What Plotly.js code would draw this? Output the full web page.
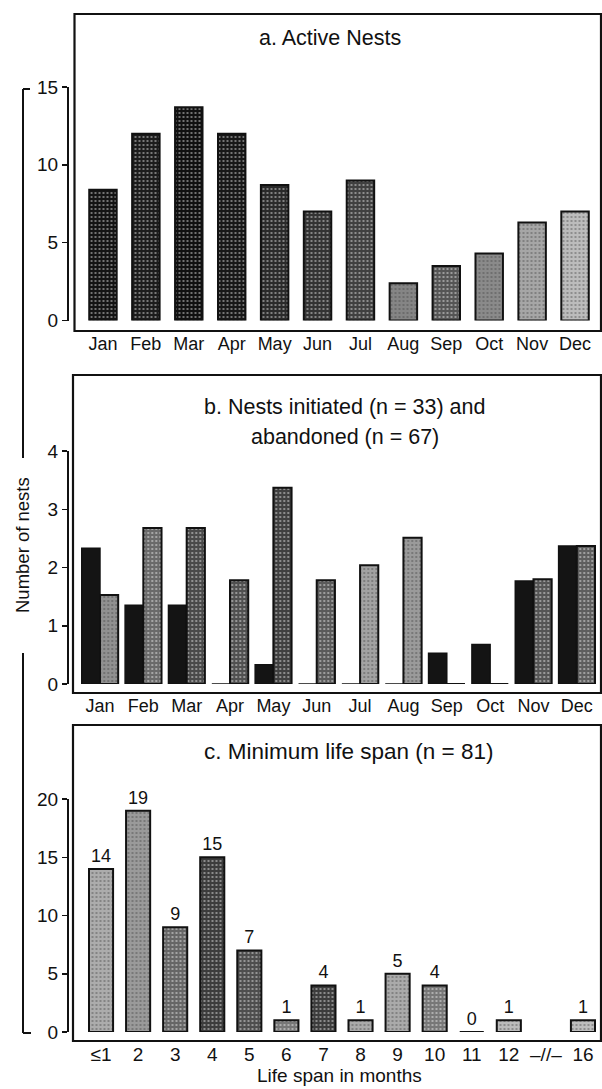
<!DOCTYPE html>
<html><head><meta charset="utf-8">
<script src="https://cdn.plot.ly/plotly-3.0.1.min.js"></script>
<style>html,body{margin:0;padding:0;background:#fff}#chart{width:602px;height:1089px}</style>
</head><body><div id="chart"></div>
<script>
// ---- data ----
const months = ['Jan','Feb','Mar','Apr','May','Jun','Jul','Aug','Sep','Oct','Nov','Dec'];
const activeNests = [8.4, 12, 13.7, 12, 8.7, 7, 9, 2.4, 3.5, 4.3, 6.3, 7];
const nestsInitiated = [2.33, 1.35, 1.35, 0, 0.33, 0, 0, 0, 0.53, 0.68, 1.77, 2.37];
const nestsAbandoned = [1.53, 2.68, 2.68, 1.78, 3.37, 1.78, 2.04, 2.51, 0, 0, 1.8, 2.37];
const lifeSpanCats = ['≤1','2','3','4','5','6','7','8','9','10','11','12','16'];
const lifeSpanCounts = [14, 19, 9, 15, 7, 1, 4, 1, 5, 4, 0, 1, 1];
const breakLabel = '–//–';

// ---- styles ----
const colA = ['#141414','#1c1c1c','#101010','#181818','#2a2a2a','#333333','#404040','#858585','#555555','#8a8a8a','#a6a6a6','#bcbcbc'];
const dotA = ['#8a8a8a','#7a7a7a','#808080','#7e7e7e','#8a8a8a','#909090','#b8b8b8','#3a3a3a','#b0b0b0','#4c4c4c','#5e5e5e','#7a7a7a'];
const colB = ['#909090','#6a6a6a','#4a4a4a','#505050','#404040','#5a5a5a','#a2a2a2','#9a9a9a','#888888','#888888','#555555','#5e5e5e'];
const dotB = ['#3a3a3a','#cfcfcf','#f0f0f0','#d0d0d0','#f2f2f2','#c0c0c0','#555555','#4a4a4a','#333333','#333333','#f0f0f0','#f4f4f4'];
const colC = ['#acacac','#9a9a9a','#666666','#3c3c3c','#4e4e4e','#777777','#3c3c3c','#aaaaaa','#aaaaaa','#777777','#999999','#bbbbbb','#bdbdbd'];
const dotC = ['#555555','#4a4a4a','#cfcfcf','#c4c4c4','#b4b4b4','#dddddd','#f0f0f0','#555555','#555555','#dddddd','#444444','#555555','#555555'];

const W = 602, H = 1089;
const px = v => v / W;
const py = v => 1 - v / H;
const FONT = 'Liberation Sans, Arial, sans-serif';
const INK = '#111111';

// life-span axis with the break slot between 12 and 16
const nBeforeBreak = lifeSpanCats.length - 1;
const cX = lifeSpanCats.slice(0, nBeforeBreak).concat([breakLabel], lifeSpanCats.slice(nBeforeBreak));
const cY = lifeSpanCounts.slice(0, nBeforeBreak).concat([null], lifeSpanCounts.slice(nBeforeBreak));
const withBreak = arr => arr.slice(0, nBeforeBreak).concat(['#ffffff'], arr.slice(nBeforeBreak));

function pat(dots) {
  return {shape: '.', fillmode: 'overlay', fgcolor: dots, size: 4, solidity: 0.22};
}

const traces = [
  {type: 'bar', x: months, y: activeNests, xaxis: 'x', yaxis: 'y', width: 0.64,
   marker: {color: colA, line: {color: INK, width: 2}, pattern: pat(dotA)}, hoverinfo: 'x+y'},
  {type: 'bar', x: months, y: nestsInitiated, xaxis: 'x2', yaxis: 'y2', width: 0.42, offset: -0.42,
   marker: {color: '#141414', line: {color: INK, width: 1.5}}, name: 'initiated'},
  {type: 'bar', x: months, y: nestsAbandoned, xaxis: 'x2', yaxis: 'y2', width: 0.42, offset: 0,
   marker: {color: colB, line: {color: INK, width: 2}, pattern: pat(dotB)}, name: 'abandoned'},
  {type: 'bar', x: cX, y: cY, xaxis: 'x3', yaxis: 'y3', width: 0.65,
   marker: {color: withBreak(colC), line: {color: INK, width: 2}, pattern: pat(withBreak(dotC))},
   texttemplate: '%{y}', textposition: 'outside', cliponaxis: false,
   textfont: {family: FONT, size: 18, color: INK}}
];

function yax(top, zero, range, tickvals) {
  return {domain: [py(zero), py(top)], range: range, anchor: 'free', position: px(67),
    showline: true, linecolor: INK, linewidth: 1.5, ticks: 'outside', ticklen: 5, tickwidth: 1.5,
    tickcolor: INK, tickvals: tickvals, showgrid: false, zeroline: false, fixedrange: true,
    ticklabelstandoff: 0, tickfont: {family: FONT, size: 19, color: INK}};
}
function xax(left, right, bottom, n, fs) {
  return {domain: [px(left), px(right)], range: [-0.5, n - 0.5], anchor: 'free', position: py(bottom),
    type: 'category', showline: false, ticks: '', showgrid: false, zeroline: false, fixedrange: true,
    tickfont: {family: FONT, size: fs, color: INK}};
}

function frame(x0, x1, y0, y1) {
  return {type: 'rect', xref: 'paper', yref: 'paper', x0: px(x0), x1: px(x1), y0: py(y1), y1: py(y0),
    line: {color: INK, width: 2.2}, fillcolor: 'rgba(0,0,0,0)', layer: 'below'};
}
function seg(x0, y0, x1, y1) {
  return {type: 'line', xref: 'paper', yref: 'paper', x0: px(x0), y0: py(y0), x1: px(x1), y1: py(y1),
    line: {color: INK, width: 2}};
}
function note(text, x, y, size, angle) {
  return {text: text, xref: 'paper', yref: 'paper', x: px(x), y: py(y), xanchor: 'center', yanchor: 'middle',
    showarrow: false, textangle: angle || 0, font: {family: FONT, size: size, color: INK}};
}

const layout = {
  width: W, height: H, margin: {l: 0, r: 0, t: 0, b: 0},
  paper_bgcolor: '#ffffff', plot_bgcolor: 'rgba(0,0,0,0)', showlegend: false,
  font: {family: FONT, color: INK},
  barmode: 'overlay',
  xaxis: xax(81.5, 596.5, 331, months.length, 18),
  yaxis: yax(87, 320.5, [0, 15], [0, 5, 10, 15]),
  xaxis2: xax(78.3, 598.5, 693, months.length, 18),
  yaxis2: yax(451, 684, [0, 4], [0, 1, 2, 3, 4]),
  xaxis3: xax(82.5, 601.5, 1041, cX.length, 19),
  yaxis3: yax(799, 1032, [0, 20], [0, 5, 10, 15, 20]),
  shapes: [
    frame(74.5, 601, 14, 331),
    frame(73, 601, 375, 693),
    frame(73, 601, 725, 1041),
    seg(23, 89, 23, 458), seg(23, 89, 30, 89),
    seg(23, 653, 23, 1033), seg(23, 1033, 31, 1033)
  ],
  annotations: [
    note('a. Active Nests', 330, 38, 21.5),
    note('b. Nests initiated (n = 33) and', 344, 407, 21.5),
    note('abandoned (n = 67)', 345, 437, 21.5),
    note('c. Minimum life span (n = 81)', 348, 752, 22.5),
    note('Life span in months', 339, 1075, 19),
    note('Number of nests', 22, 545, 18.5, -90)
  ]
};

Plotly.newPlot('chart', traces, layout, {staticPlot: true, displayModeBar: false});
</script>
</body></html>
